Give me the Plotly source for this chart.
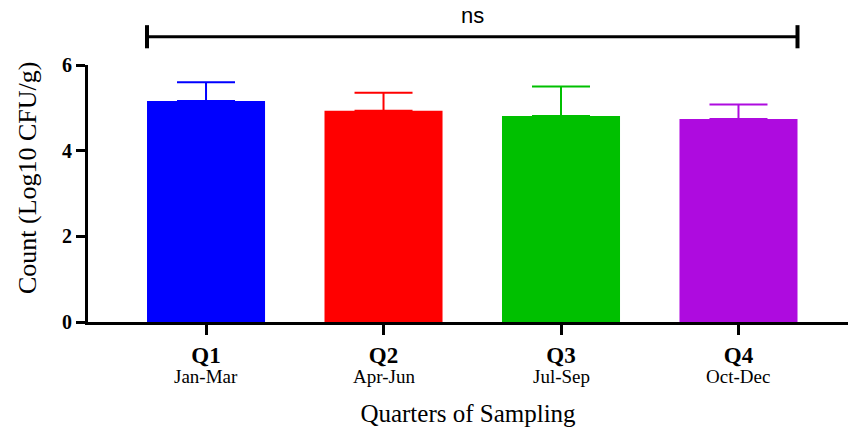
import plotly.graph_objects as go

quarters = ["Q1", "Q2", "Q3", "Q4"]
months = ["Jan-Mar", "Apr-Jun", "Jul-Sep", "Oct-Dec"]
means = [5.16, 4.93, 4.81, 4.74]
err_upper = [0.44, 0.42, 0.69, 0.34]
colors = ["#0000FF", "#FF0000", "#00C000", "#AE0BDF"]
yticks = [0, 2, 4, 6]

SERIF = "Liberation Serif, Times New Roman, serif"
x = list(range(len(quarters)))

fig = go.Figure()
for i in x:
    fig.add_trace(go.Bar(
        x=[i], y=[means[i]], width=0.665,
        marker=dict(color=colors[i], line=dict(width=0)),
        error_y=dict(type="data", symmetric=False, array=[err_upper[i]], arrayminus=[0],
                     color=colors[i], thickness=2, width=29),
        showlegend=False,
    ))

# month labels under quarter ticks
for i in x:
    fig.add_annotation(x=i, xref="x", y=-0.212, yref="paper", text=months[i], showarrow=False,
                       yanchor="middle", font=dict(family=SERIF, size=19, color="black"))

# significance bracket
left, right, yb = -0.3325, 3.3325, 1.11
fig.add_shape(type="line", xref="x", yref="paper", x0=left, x1=right, y0=yb, y1=yb,
              line=dict(color="black", width=3))
for xe in (left, right):
    fig.add_shape(type="line", xref="x", yref="paper", x0=xe, x1=xe, y0=yb - 0.045, y1=yb + 0.045,
                  line=dict(color="black", width=4))
fig.add_annotation(x=1.5, xref="x", y=yb + 0.025, yref="paper", text="ns", showarrow=False,
                   yanchor="bottom", font=dict(family="Liberation Sans, Arial", size=22, color="black"))

fig.add_annotation(x=0, xref="paper", y=0.56, yref="paper", xshift=-61, xanchor="center",
                   text="Count (Log10 CFU/g)", textangle=-90, showarrow=False,
                   font=dict(family=SERIF, size=26, color="black"))

fig.update_layout(
    width=848, height=427,
    margin=dict(l=88, r=0, t=65, b=105, autoexpand=False),
    plot_bgcolor="white", paper_bgcolor="white",
    xaxis=dict(range=[-0.665, 3.617], tickmode="array", tickvals=x,
               ticktext=[f"<b>{q}</b>" for q in quarters],
               showline=True, linecolor="black", linewidth=3, ticks="outside", ticklen=10,
               tickwidth=3, tickcolor="black", showgrid=False, zeroline=False,
               tickfont=dict(family=SERIF, size=23, color="black"),
               title=dict(text="Quarters of Sampling", standoff=48,
                          font=dict(family=SERIF, size=25, color="black"))),
    yaxis=dict(range=[0, 6], tickmode="array", tickvals=yticks,
               ticktext=[f"<b>{v}</b>" for v in yticks],
               showline=True, linecolor="black", linewidth=3, ticks="outside", ticklen=9,
               tickwidth=3, tickcolor="black", showgrid=False, zeroline=False,
               tickfont=dict(family=SERIF, size=20, color="black")),
)

fig.write_html("out.html", config={"displayModeBar": False},
               post_script="document.body.style.margin='0';document.body.style.overflow='hidden';")
